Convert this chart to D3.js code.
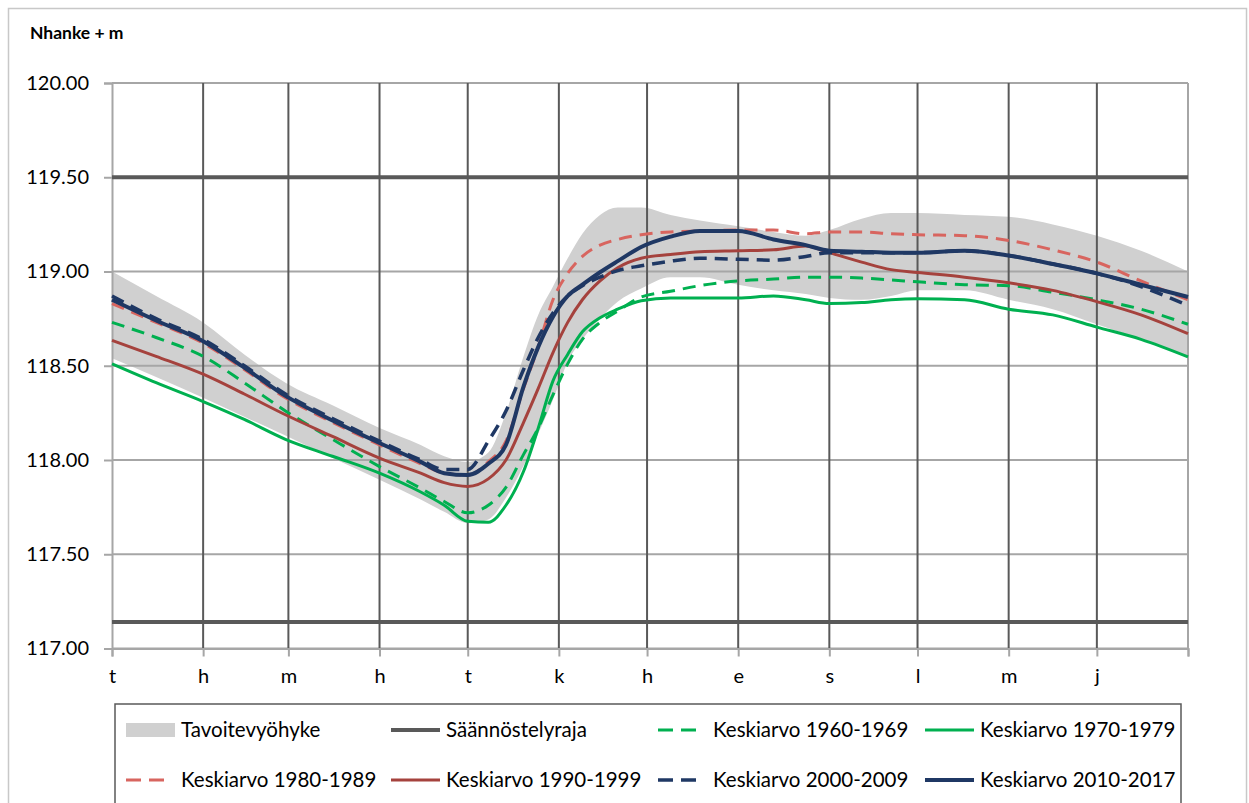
<!DOCTYPE html>
<html>
<head>
<meta charset="utf-8">
<script src="https://cdn.jsdelivr.net/npm/d3@7"></script>
<style>
  html, body { margin: 0; padding: 0; background: #fff; }
  svg { display: block; }
  text { font-family: Lato, "Open Sans", sans-serif; fill: #000; }
</style>
</head>
<body>
<svg id="chart" width="1249" height="803"></svg>
<script>
// ---- data ----
const monthLabels = ["t","h","m","h","t","k","h","e","s","l","m","j"];
const monthStartDays = [0,31,60,91,121,152,182,213,244,274,305,335];
const yearEndDay = 366;
const yTickValues = [117.0, 117.5, 118.0, 118.5, 119.0, 119.5, 120.0];
const regulationLimits = [117.14, 119.50];

const days = [0,15,31,45,59,75,91,105,113,121,128,134,140,145,150,155,160,166,172,180,190,200,213,225,236,244,255,265,274,290,305,320,335,350,366];

const bandUpper = [119.00,118.87,118.73,118.56,118.41,118.29,118.17,118.08,118.02,117.99,118.04,118.25,118.55,118.77,118.92,119.07,119.20,119.30,119.34,119.34,119.30,119.27,119.24,119.21,119.19,119.22,119.28,119.31,119.31,119.30,119.29,119.25,119.19,119.11,119.00];
const bandLower = [118.54,118.44,118.33,118.23,118.13,118.01,117.895,117.79,117.725,117.665,117.685,117.80,117.97,118.14,118.32,118.52,118.64,118.75,118.84,118.91,118.97,118.97,118.93,118.90,118.88,118.86,118.85,118.87,118.90,118.90,118.85,118.80,118.72,118.64,118.55];

const avg1960 = [118.73,118.65,118.55,118.41,118.26,118.11,117.965,117.85,117.78,117.72,117.76,117.855,118.03,118.17,118.345,118.51,118.64,118.73,118.79,118.865,118.895,118.925,118.95,118.96,118.97,118.97,118.965,118.955,118.945,118.93,118.925,118.89,118.85,118.80,118.72];
const avg1970 = [118.51,118.41,118.31,118.215,118.11,118.02,117.93,117.83,117.76,117.675,117.67,117.76,117.94,118.17,118.42,118.56,118.68,118.755,118.80,118.845,118.86,118.86,118.86,118.87,118.85,118.83,118.835,118.85,118.855,118.85,118.80,118.77,118.705,118.64,118.547];
const avg1980 = [118.83,118.73,118.62,118.48,118.33,118.20,118.08,117.98,117.93,117.92,117.99,118.10,118.38,118.60,118.85,118.99,119.08,119.14,119.17,119.195,119.21,119.215,119.22,119.22,119.20,119.21,119.21,119.20,119.195,119.19,119.165,119.115,119.05,118.95,118.85];
const avg1990 = [118.635,118.55,118.455,118.35,118.24,118.125,118.01,117.93,117.88,117.86,117.90,118.00,118.20,118.38,118.57,118.73,118.85,118.95,119.02,119.07,119.09,119.105,119.11,119.115,119.135,119.10,119.05,119.01,118.995,118.97,118.94,118.90,118.84,118.77,118.67];
const avg2000 = [118.87,118.75,118.64,118.50,118.35,118.22,118.10,118.00,117.95,117.95,118.10,118.26,118.48,118.65,118.78,118.87,118.925,118.97,119.005,119.03,119.055,119.07,119.065,119.06,119.08,119.10,119.10,119.10,119.10,119.11,119.085,119.04,118.99,118.92,118.82];
const avg2010 = [118.85,118.74,118.63,118.49,118.34,118.21,118.09,117.99,117.93,117.92,117.98,118.08,118.39,118.60,118.76,118.87,118.93,118.996,119.055,119.13,119.185,119.215,119.215,119.17,119.14,119.11,119.105,119.10,119.10,119.11,119.085,119.04,118.99,118.93,118.865];

const seriesNames = ["Tavoitevyöhyke","Säännöstelyraja","Keskiarvo 1960-1969","Keskiarvo 1970-1979","Keskiarvo 1980-1989","Keskiarvo 1990-1999","Keskiarvo 2000-2009","Keskiarvo 2010-2017"];

// ---- styles ----
const C = {
  band: "#d0d0d0",
  reg: "#595959",
  green: "#00b050",
  redDash: "#d8655f",
  red: "#a5423d",
  blue: "#1f3864",
  gridH: "#a6a6a6",
  gridV: "#595959"
};
const lineSeries = [
  {name: seriesNames[2], values: avg1960, color: C.green, width: 3, dash: "13,8"},
  {name: seriesNames[3], values: avg1970, color: C.green, width: 3, dash: null},
  {name: seriesNames[4], values: avg1980, color: C.redDash, width: 3, dash: "13,8"},
  {name: seriesNames[5], values: avg1990, color: C.red, width: 3, dash: null},
  {name: seriesNames[6], values: avg2000, color: C.blue, width: 3.5, dash: "13,8"},
  {name: seriesNames[7], values: avg2010, color: C.blue, width: 4, dash: null}
];

const svg = d3.select("#chart");

// outer frame
svg.append("rect").attr("x", 8.5).attr("y", 8.5).attr("width", 1238).attr("height", 820)
  .attr("fill", "#fff").attr("stroke", "#c8c8c8").attr("stroke-width", 1.5);

const L = 112, R = 1188, T = 83, B = 648.5;
const x = d3.scaleLinear().domain([0, yearEndDay]).range([L, R]);
const y = d3.scaleLinear().domain([117, 120]).range([B, T]);

// title
svg.append("text").attr("x", 30).attr("y", 39).attr("font-size", 17.5).attr("font-weight", "bold")
  .text("Nhanke + m");

// band
const area = d3.area().x((d, i) => x(days[i])).y0((d, i) => y(bandLower[i])).y1((d, i) => y(bandUpper[i]))
  .curve(d3.curveMonotoneX);
svg.append("path").datum(days).attr("d", area).attr("fill", C.band);

// horizontal gridlines
svg.append("g").selectAll("line").data(yTickValues).join("line")
  .attr("x1", L).attr("x2", R).attr("y1", d => y(d)).attr("y2", d => y(d))
  .attr("stroke", C.gridH).attr("stroke-width", 2);

// vertical gridlines
svg.append("g").selectAll("line").data(monthStartDays.slice(1)).join("line")
  .attr("x1", d => x(d)).attr("x2", d => x(d)).attr("y1", T).attr("y2", B)
  .attr("stroke", C.gridV).attr("stroke-width", 2);
svg.append("line").attr("x1", x(yearEndDay)).attr("x2", x(yearEndDay)).attr("y1", T).attr("y2", B)
  .attr("stroke", C.gridH).attr("stroke-width", 2);

// y axis
const yAxis = d3.axisLeft(y).tickValues(yTickValues).tickFormat(d3.format(".2f")).tickSize(8).tickPadding(15);
const gy = svg.append("g").attr("transform", `translate(${L},0)`).call(yAxis);
gy.select(".domain").attr("stroke", C.gridH).attr("stroke-width", 2);
gy.selectAll(".tick line").attr("stroke", C.gridH).attr("stroke-width", 2);
gy.selectAll(".tick text").attr("font-size", 20).attr("font-family", "Lato, sans-serif").attr("fill", "#000");

// x axis
const xTickVals = monthStartDays.concat([yearEndDay]);
const xAxis = d3.axisBottom(x).tickValues(xTickVals).tickFormat((d, i) => monthLabels[i] || "").tickSize(8).tickPadding(12);
const gx = svg.append("g").attr("transform", `translate(0,${B})`).call(xAxis);
gx.select(".domain").attr("stroke", C.gridH).attr("stroke-width", 2);
gx.selectAll(".tick line").attr("stroke", C.gridH).attr("stroke-width", 2);
gx.selectAll(".tick text").attr("font-size", 20).attr("font-family", "Lato, sans-serif").attr("fill", "#000");

// regulation limits
svg.append("g").selectAll("line").data(regulationLimits).join("line")
  .attr("x1", L).attr("x2", R).attr("y1", d => y(d)).attr("y2", d => y(d))
  .attr("stroke", C.reg).attr("stroke-width", 4);

// series lines
const line = d3.line().x((d, i) => x(days[i])).y(d => y(d)).curve(d3.curveMonotoneX);
svg.append("g").selectAll("path").data(lineSeries).join("path")
  .attr("d", s => line(s.values))
  .attr("fill", "none")
  .attr("stroke", s => s.color)
  .attr("stroke-width", s => s.width)
  .attr("stroke-dasharray", s => s.dash)
  .attr("stroke-linejoin", "round");

// legend
svg.append("rect").attr("x", 115).attr("y", 704).attr("width", 1066).attr("height", 120)
  .attr("fill", "#fff").attr("stroke", "#595959").attr("stroke-width", 1.5);

const legendCols = [126, 391, 658, 925];
const legendRows = [730, 780];
const legendItems = [
  {name: seriesNames[0], type: "band"},
  {name: seriesNames[1], type: "line", color: C.reg, width: 4, dash: null},
  ...lineSeries.map(s => ({name: s.name, type: "line", color: s.color, width: s.width, dash: s.dash ? "15,8" : null}))
];
const lg = svg.append("g").selectAll("g").data(legendItems).join("g")
  .attr("transform", (d, i) => `translate(${legendCols[i % 4]},${legendRows[Math.floor(i / 4)]})`);
lg.each(function(d) {
  const g = d3.select(this);
  if (d.type === "band") {
    g.append("rect").attr("x", 0).attr("y", -7).attr("width", 49).attr("height", 14).attr("fill", C.band);
  } else {
    g.append("line").attr("x1", 0).attr("x2", d.dash ? 38 : 49).attr("y1", 0).attr("y2", 0)
      .attr("stroke", d.color).attr("stroke-width", d.width).attr("stroke-dasharray", d.dash);
  }
  g.append("text").attr("x", 55).attr("y", 0).attr("dy", "0.35em").attr("font-size", 20.5).text(d.name);
});
</script>
</body>
</html>
